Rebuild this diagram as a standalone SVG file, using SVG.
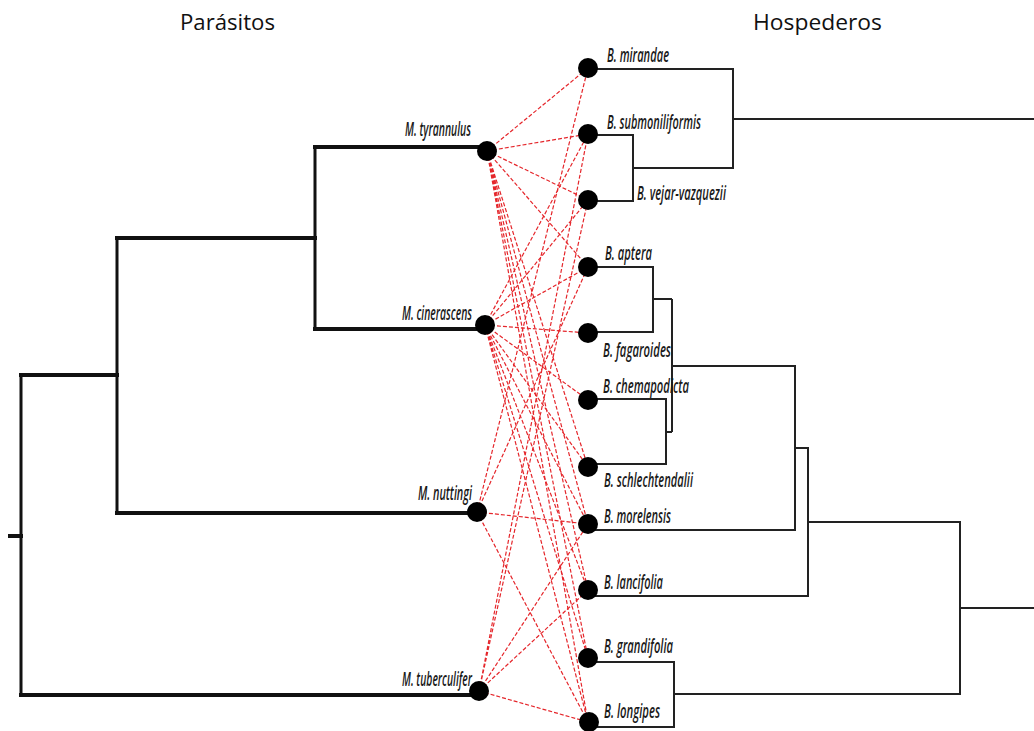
<svg xmlns="http://www.w3.org/2000/svg" width="1034" height="731" viewBox="0 0 1034 731">
<style>
.hdr{font-family:"Open Sans","Liberation Sans",sans-serif;font-size:21px;fill:#111}
.lbl{font-family:"Open Sans","Liberation Sans",Arial,sans-serif;font-style:italic;font-weight:600;font-size:19px;fill:#1a1a1a}
.pt{fill:none;stroke:#111;stroke-width:4;stroke-linecap:square}
.pv{fill:none;stroke:#111;stroke-width:3}
.ht{fill:none;stroke:#222;stroke-width:2}
.dot{fill:#000}
.lk{stroke:#e5262b;stroke-width:1.2;stroke-dasharray:4 2;fill:none}
</style>
<rect width="1034" height="731" fill="#fff"/>
<text class="hdr" x="180" y="30" textLength="95" lengthAdjust="spacingAndGlyphs">Parásitos</text>
<text class="hdr" x="753" y="30" textLength="129" lengthAdjust="spacingAndGlyphs">Hospederos</text>

<g id="parasite-tree">
<path class="pt" d="M315,147H480M315,329H480M117,238H315M117,513H475M21,375H117M21,695H479M10,536H21"/>
<path class="pv" d="M315,147V329M117,238V513M21,375V695"/>
</g>

<g id="host-tree">
<path class="ht" d="M588,69H733V168H633M588,135H633V201H588M733,119H1034"/>
<path class="ht" d="M588,267H653V332H588M653,299H672M588,399H666V464H588M666,432H672M672,299V432M672,366H795V530H588"/>
<path class="ht" d="M795,448H808V596H588M808,522H960V694H674M588,662H674V727H588M960,608H1034"/>
</g>

<g id="connectors">
<path class="lk" d="M487,151L588,68M487,151L588,134M487,151L588,200M487,151L588,267M487,151L588,467M487,151L588,524M487,151L588,590M487,151L588,658M487,151L588,722"/>
<path class="lk" d="M485,325L588,134M485,325L588,200M485,325L588,267M485,325L588,333M485,325L588,400M485,325L588,467M485,325L588,524M485,325L588,590M485,325L588,658M485,325L588,722"/>
<path class="lk" d="M477,512L588,68M477,512L588,267M477,512L588,524M477,512L588,722"/>
<path class="lk" d="M479,691L588,134M479,691L588,200M479,691L588,524M479,691L588,590M479,691L588,722"/>
</g>

<g id="p-tyrannulus"><circle class="dot" cx="487" cy="151" r="10"/><text class="lbl" x="471" y="136" text-anchor="end" textLength="66" lengthAdjust="spacingAndGlyphs">M. tyrannulus</text></g>
<g id="p-cinerascens"><circle class="dot" cx="485" cy="325" r="10"/><text class="lbl" x="472" y="320" text-anchor="end" textLength="70" lengthAdjust="spacingAndGlyphs">M. cinerascens</text></g>
<g id="p-nuttingi"><circle class="dot" cx="477" cy="512" r="10"/><text class="lbl" x="472" y="500" text-anchor="end" textLength="54" lengthAdjust="spacingAndGlyphs">M. nuttingi</text></g>
<g id="p-tuberculifer"><circle class="dot" cx="479" cy="691" r="10"/><text class="lbl" x="472" y="686" text-anchor="end" textLength="70" lengthAdjust="spacingAndGlyphs">M. tuberculifer</text></g>

<g id="h-mirandae"><circle class="dot" cx="588" cy="68" r="10"/><text class="lbl" x="607" y="62" textLength="62" lengthAdjust="spacingAndGlyphs">B. mirandae</text></g>
<g id="h-submoniliformis"><circle class="dot" cx="588" cy="134" r="10"/><text class="lbl" x="607" y="129" textLength="94" lengthAdjust="spacingAndGlyphs">B. submoniliformis</text></g>
<g id="h-vejar-vazquezii"><circle class="dot" cx="588" cy="200" r="10"/><text class="lbl" x="637" y="200" textLength="89" lengthAdjust="spacingAndGlyphs">B. vejar-vazquezii</text></g>
<g id="h-aptera"><circle class="dot" cx="588" cy="267" r="10"/><text class="lbl" x="605" y="260" textLength="47" lengthAdjust="spacingAndGlyphs">B. aptera</text></g>
<g id="h-fagaroides"><circle class="dot" cx="588" cy="333" r="10"/><text class="lbl" x="603" y="357" textLength="68" lengthAdjust="spacingAndGlyphs">B. fagaroides</text></g>
<g id="h-chemapodicta"><circle class="dot" cx="588" cy="400" r="10"/><text class="lbl" x="603" y="393" textLength="86" lengthAdjust="spacingAndGlyphs">B. chemapodicta</text></g>
<g id="h-schlechtendalii"><circle class="dot" cx="588" cy="467" r="10"/><text class="lbl" x="604" y="487" textLength="89" lengthAdjust="spacingAndGlyphs">B. schlechtendalii</text></g>
<g id="h-morelensis"><circle class="dot" cx="588" cy="524" r="10"/><text class="lbl" x="604" y="523" textLength="67" lengthAdjust="spacingAndGlyphs">B. morelensis</text></g>
<g id="h-lancifolia"><circle class="dot" cx="588" cy="590" r="10"/><text class="lbl" x="604" y="589" textLength="59" lengthAdjust="spacingAndGlyphs">B. lancifolia</text></g>
<g id="h-grandifolia"><circle class="dot" cx="588" cy="658" r="10"/><text class="lbl" x="604" y="653" textLength="69" lengthAdjust="spacingAndGlyphs">B. grandifolia</text></g>
<g id="h-longipes"><circle class="dot" cx="589" cy="722" r="10"/><text class="lbl" x="604" y="718" textLength="56" lengthAdjust="spacingAndGlyphs">B. longipes</text></g>
</svg>
